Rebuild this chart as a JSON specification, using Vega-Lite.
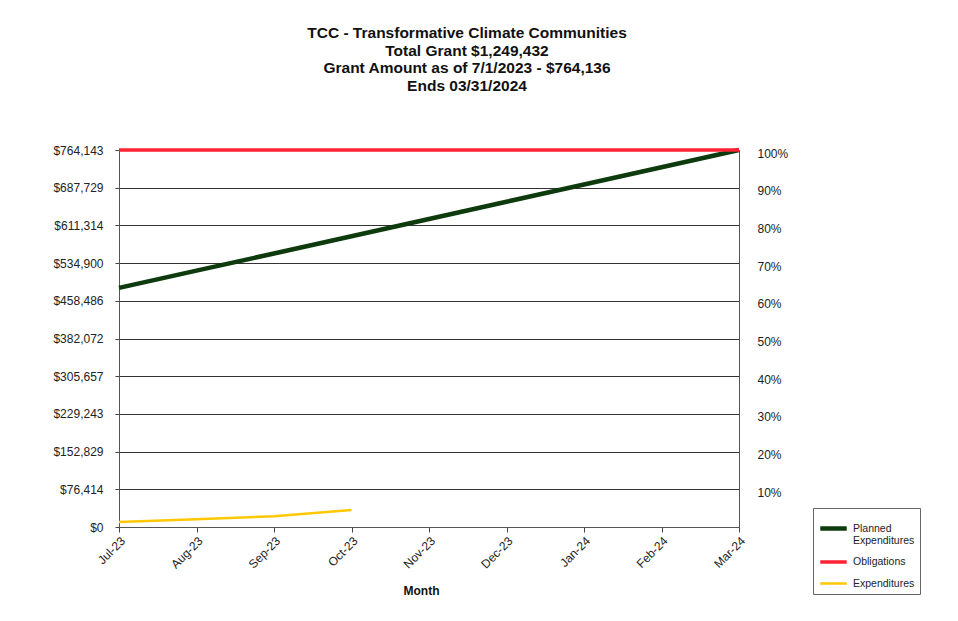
{
  "$schema": "https://vega.github.io/schema/vega-lite/v6.json",
  "width": 620,
  "height": 377,
  "autosize": "none",
  "padding": {"left": 119, "top": 150, "right": 219, "bottom": 94},
  "background": "white",
  "title": {
    "text": ["TCC - Transformative Climate Communities", "Total Grant  $1,249,432", "Grant Amount as of 7/1/2023 - $764,136", "Ends 03/31/2024"],
    "anchor": "middle",
    "dx": 38,
    "offset": 47,
    "fontSize": 15.5,
    "font": "Liberation Sans",
    "fontWeight": "bold",
    "lineHeight": 17.5,
    "color": "#111"
  },
  "config": {
    "view": {"stroke": null},
    "font": "Liberation Sans",
    "axis": {"labelFont": "Liberation Sans", "titleFont": "Liberation Sans", "labelColor": "#222", "titleColor": "#111", "domainColor": "#666", "tickColor": "#444"}
  },
  "data": {
    "values": [
      {"month": "Jul-23", "series": "Planned Expenditures", "value": 484600},
      {"month": "Aug-23", "series": "Planned Expenditures", "value": 519543},
      {"month": "Sep-23", "series": "Planned Expenditures", "value": 554486},
      {"month": "Oct-23", "series": "Planned Expenditures", "value": 589429},
      {"month": "Nov-23", "series": "Planned Expenditures", "value": 624372},
      {"month": "Dec-23", "series": "Planned Expenditures", "value": 659315},
      {"month": "Jan-24", "series": "Planned Expenditures", "value": 694258},
      {"month": "Feb-24", "series": "Planned Expenditures", "value": 729200},
      {"month": "Mar-24", "series": "Planned Expenditures", "value": 764143},
      {"month": "Jul-23", "series": "Obligations", "value": 764136},
      {"month": "Aug-23", "series": "Obligations", "value": 764136},
      {"month": "Sep-23", "series": "Obligations", "value": 764136},
      {"month": "Oct-23", "series": "Obligations", "value": 764136},
      {"month": "Nov-23", "series": "Obligations", "value": 764136},
      {"month": "Dec-23", "series": "Obligations", "value": 764136},
      {"month": "Jan-24", "series": "Obligations", "value": 764136},
      {"month": "Feb-24", "series": "Obligations", "value": 764136},
      {"month": "Mar-24", "series": "Obligations", "value": 764136},
      {"month": "Jul-23", "series": "Expenditures", "value": 10300},
      {"month": "Aug-23", "series": "Expenditures", "value": 15500},
      {"month": "Sep-23", "series": "Expenditures", "value": 21700},
      {"month": "Oct-23", "series": "Expenditures", "value": 34500}
    ]
  },
  "encoding": {
    "x": {
      "field": "month",
      "type": "ordinal",
      "sort": ["Jul-23", "Aug-23", "Sep-23", "Oct-23", "Nov-23", "Dec-23", "Jan-24", "Feb-24", "Mar-24"],
      "scale": {"type": "point", "padding": 0},
      "axis": {
        "title": "Month",
        "titleFontSize": 12,
        "titleFontWeight": "bold",
        "titleX": 302,
        "titleY": 63,
        "titleBaseline": "middle",
        "labelAngle": -45,
        "labelFontSize": 12,
        "labelPadding": 3,
        "tickSize": 5,
        "domainColor": "#555",
        "grid": false
      }
    }
  },
  "layer": [
    {
      "mark": {"type": "line", "interpolate": "linear"},
      "encoding": {
        "y": {
          "field": "value",
          "type": "quantitative",
          "scale": {"domain": [0, 764143], "nice": false, "zero": true},
          "axis": {
            "title": null,
            "orient": "left",
            "values": [0, 76414.3, 152828.6, 229242.9, 305657.2, 382071.5, 458485.8, 534900.1, 611314.4, 687728.7, 764143],
            "format": "$,.0f",
            "labelFontSize": 12,
            "tickSize": 4,
            "labelPadding": 12,
            "grid": true,
            "gridColor": "#333",
            "gridWidth": 1,
            "domainColor": "#555"
          }
        },
        "color": {
          "field": "series",
          "type": "nominal",
          "scale": {
            "domain": ["Planned Expenditures", "Obligations", "Expenditures"],
            "range": ["#0d3b0d", "#ff2233", "#ffc800"]
          },
          "legend": {
            "title": null,
            "orient": "none",
            "legendX": 694,
            "legendY": 358,
            "symbolType": "stroke",
            "symbolSize": 700,
            "symbolStrokeWidth": 3.5,
            "labelFontSize": 10.5,
            "labelFont": "Liberation Sans",
            "labelColor": "#222",
            "labelExpr": "datum.label == 'Planned Expenditures' ? ['Planned', 'Expenditures'] : datum.label",
            "strokeColor": "#666",
            "padding": 5,
            "rowPadding": 0,
            "fillColor": "white"
          }
        },
        "strokeWidth": {
          "field": "series",
          "type": "nominal",
          "scale": {"domain": ["Planned Expenditures", "Obligations", "Expenditures"], "range": [4.5, 2.5, 4.5]},
          "legend": null
        },
        "order": {"field": "series"}
      }
    },
    {
      "mark": {"type": "line", "opacity": 0},
      "encoding": {
        "y": {
          "field": "value",
          "type": "quantitative",
          "axis": {
            "title": null,
            "orient": "right",
            "values": [76414.3, 152828.6, 229242.9, 305657.2, 382071.5, 458485.8, 534900.1, 611314.4, 687728.7, 764143],
            "labelExpr": "format(datum.value / 764143, '.0%')",
            "labelFontSize": 12,
            "labelAlign": "left",
            "tickSize": 0,
            "labelPadding": 18,
            "labelOffset": 3,
            "grid": false,
            "domainColor": "#555"
          }
        },
        "detail": {"field": "series"}
      }
    }
  ],
  "resolve": {"scale": {"y": "shared"}, "axis": {"y": "independent"}}
}
